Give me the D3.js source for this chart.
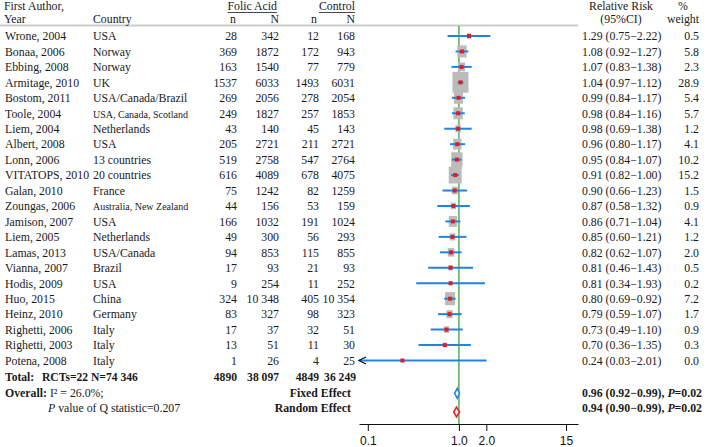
<!DOCTYPE html>
<html>
<head>
<meta charset="utf-8">
<script src="https://cdn.jsdelivr.net/npm/d3@7"></script>
<style>
  body { margin: 0; background: #fff; }
  svg text { font-family: "Liberation Serif", "Times New Roman", serif; font-size: 11.8px; fill: #1a1a1a; }
  .ax text { font-family: "Liberation Sans", Arial, sans-serif; font-size: 12px; fill: #111; }
  svg text.tot { font-size: 11.6px; font-weight: bold; }
</style>
</head>
<body>
<div id="chart"></div>
<script>
// donnees des essais
const authors = ["Wrone, 2004", "Bonaa, 2006", "Ebbing, 2008", "Armitage, 2010", "Bostom, 2011", "Toole, 2004",
  "Liem, 2004", "Albert, 2008", "Lonn, 2006", "VITATOPS, 2010", "Galan, 2010", "Zoungas, 2006", "Jamison, 2007",
  "Liem, 2005", "Lamas, 2013", "Vianna, 2007", "Hodis, 2009", "Huo, 2015", "Heinz, 2010", "Righetti, 2006",
  "Righetti, 2003", "Potena, 2008"];
const countries = ["USA", "Norway", "Norway", "UK", "USA/Canada/Brazil", "USA, Canada, Scotland", "Netherlands",
  "USA", "13 countries", "20 countries", "France", "Australia, New Zealand", "USA", "Netherlands", "USA/Canada",
  "Brazil", "USA", "China", "Germany", "Italy", "Italy", "Italy"];
const folicN = [28, 369, 163, 1537, 269, 249, 43, 205, 519, 616, 75, 44, 166, 49, 94, 17, 9, 324, 83, 17, 13, 1];
const folicTotal = [342, 1872, 1540, 6033, 2056, 1827, 140, 2721, 2758, 4089, 1242, 156, 1032, 300, 853, 93, 254, 10348, 327, 37, 51, 26];
const ctrlN = [12, 172, 77, 1493, 278, 257, 45, 211, 547, 678, 82, 53, 191, 56, 115, 21, 11, 405, 98, 32, 11, 4];
const ctrlTotal = [168, 943, 779, 6031, 2054, 1853, 143, 2721, 2764, 4075, 1259, 159, 1024, 293, 855, 93, 252, 10354, 323, 51, 30, 25];
const rr = [1.29, 1.08, 1.07, 1.04, 0.99, 0.98, 0.98, 0.96, 0.95, 0.91, 0.90, 0.87, 0.86, 0.85, 0.82, 0.81, 0.81, 0.80, 0.79, 0.73, 0.70, 0.24];
const lower = [0.75, 0.92, 0.83, 0.97, 0.84, 0.84, 0.69, 0.80, 0.84, 0.82, 0.66, 0.58, 0.71, 0.60, 0.62, 0.46, 0.34, 0.69, 0.59, 0.49, 0.36, 0.03];
const upper = [2.22, 1.27, 1.38, 1.12, 1.17, 1.16, 1.38, 1.17, 1.07, 1.00, 1.23, 1.32, 1.04, 1.21, 1.07, 1.43, 1.93, 0.92, 1.07, 1.10, 1.35, 2.01];
const weights = [0.5, 5.8, 2.3, 28.9, 5.4, 5.7, 1.2, 4.1, 10.2, 15.2, 1.5, 0.9, 4.1, 1.2, 2.0, 0.5, 0.2, 7.2, 1.7, 0.9, 0.3, 0.0];

// totaux et effets globaux
const totals = [4890, 38097, 4849, 36249];
const pooledLabels = ["Fixed Effect", "Random Effect"];
const pooledRR = [0.96, 0.94];
const pooledLo = [0.92, 0.90];
const pooledHi = [0.99, 0.99];
const pooledP = ["0.02", "0.02"];
const tickValues = [0.1, 1, 2, 15];
const tickLabels = ["0.1", "1.0", "2.0", "15"];

const width = 709, height = 447;
const smallCountries = ["USA, Canada, Scotland", "Australia, New Zealand"];

const svg = d3.select("#chart").append("svg").attr("width", width).attr("height", height);

// echelles
const x = d3.scaleLog().domain([0.08, 20.3]).range([359, 578]);
const y = d3.scaleLinear().domain([0, authors.length - 1]).range([36, 360.5]);
const side = d3.scalePow().exponent(1 / 3).domain([0, 28.9]).range([0, 16]);

const fmtN = (v) => (v >= 10000 ? d3.format(",")(v).replace(",", " ") : String(v));
const f2 = d3.format(".2f");

// entete
svg.append("line").attr("x1", 0).attr("x2", 578).attr("y1", 25.5).attr("y2", 25.5)
  .attr("stroke", "#cccccc").attr("stroke-width", 2);

svg.append("text").attr("x", 4).attr("y", 10).text("First Author,");
svg.append("text").attr("x", 4).attr("y", 23).text("Year");
svg.append("text").attr("x", 93).attr("y", 23).text("Country");
const grpHead = [{ t: "Folic Acid", r: 277 }, { t: "Control", r: 355 }];
grpHead.forEach(function (g) {
  const t = svg.append("text").attr("x", g.r).attr("y", 10).attr("text-anchor", "end").text(g.t);
  const w = t.node().getComputedTextLength();
  svg.append("line").attr("x1", g.r - w).attr("x2", g.r).attr("y1", 12.5).attr("y2", 12.5)
    .attr("stroke", "#1a1a1a").attr("stroke-width", 0.8);
});
[["n", 236], ["N", 279], ["n", 317], ["N", 355]].forEach(function (d) {
  svg.append("text").attr("x", d[1]).attr("y", 23).attr("text-anchor", "end").text(d[0]);
});
svg.append("text").attr("x", 621).attr("y", 10).attr("text-anchor", "middle").text("Relative Risk");
svg.append("text").attr("x", 621).attr("y", 23).attr("text-anchor", "middle").text("(95%CI)");
svg.append("text").attr("x", 683).attr("y", 10).attr("text-anchor", "middle").text("%");
svg.append("text").attr("x", 683).attr("y", 23).attr("text-anchor", "middle").text("weight");

// lignes du tableau
const rows = svg.selectAll(".row").data(authors).enter().append("g")
  .attr("class", "row")
  .attr("transform", function (d, i) { return "translate(0," + (y(i) + 4.3) + ")"; });

rows.append("text").attr("x", 5).text(function (d) { return d; });
rows.append("text").attr("x", 93)
  .style("font-size", function (d, i) { return smallCountries.includes(countries[i]) ? "10px" : null; })
  .text(function (d, i) { return countries[i]; });
const numCols = [[folicN, 237], [folicTotal, 279], [ctrlN, 319], [ctrlTotal, 355]];
numCols.forEach(function (c) {
  rows.append("text").attr("x", c[1]).attr("text-anchor", "end")
    .text(function (d, i) { return fmtN(c[0][i]); });
});
rows.append("text").attr("x", 582)
  .text(function (d, i) { return f2(rr[i]) + " (" + f2(lower[i]) + "\u2212" + f2(upper[i]) + ")"; });
rows.append("text").attr("x", 699).attr("text-anchor", "end")
  .text(function (d, i) { return weights[i].toFixed(1); });

// ligne de reference
svg.append("line").attr("x1", x(1)).attr("x2", x(1)).attr("y1", 26).attr("y2", 424)
  .attr("stroke", "#3aa340").attr("stroke-width", 1.3);

// marqueurs
const marks = svg.selectAll(".mark").data(authors).enter().append("g").attr("class", "mark");
marks.append("rect")
  .attr("x", function (d, i) { return x(rr[i]) - side(weights[i]) / 2; })
  .attr("y", function (d, i) { return y(i) - side(weights[i]) * 0.65; })
  .attr("width", function (d, i) { return side(weights[i]); })
  .attr("height", function (d, i) { return side(weights[i]) * 1.3; })
  .attr("fill", "#bbbbbb");
marks.append("line")
  .attr("x1", function (d, i) { return x(Math.max(lower[i], x.domain()[0])); })
  .attr("x2", function (d, i) { return x(upper[i]); })
  .attr("y1", function (d, i) { return y(i); })
  .attr("y2", function (d, i) { return y(i); })
  .attr("stroke", "#2283e2").attr("stroke-width", 2);
marks.append("rect")
  .attr("x", function (d, i) { return x(rr[i]) - 2; })
  .attr("y", function (d, i) { return y(i) - 2; })
  .attr("width", 4).attr("height", 4)
  .attr("fill", "#d8202a");

// fleche pour IC tronque
marks.filter(function (d, i) { return lower[i] < x.domain()[0]; })
  .append("path")
  .attr("d", function (d) {
    const x0 = x.range()[0], yy = y(authors.indexOf(d));
    return "M" + (x0 + 7) + "," + (yy - 3.5) + "L" + x0 + "," + yy + "L" + (x0 + 7) + "," + (yy + 3.5);
  })
  .attr("fill", "none").attr("stroke", "#111").attr("stroke-width", 1.3);

// total
const yTot = 381;
svg.append("text").attr("class", "tot").attr("x", 5).attr("y", yTot).text("Total:");
svg.append("text").attr("class", "tot").attr("x", 42).attr("y", yTot).text("RCTs=22");
svg.append("text").attr("class", "tot").attr("x", 91).attr("y", yTot).text("N=74 346");
[237, 279, 319, 356].forEach(function (px, k) {
  svg.append("text").attr("class", "tot").attr("x", px).attr("y", yTot).attr("text-anchor", "end")
    .text(fmtN(totals[k]));
});

// heterogeneite
const ov = svg.append("text").attr("x", 5).attr("y", 396.5);
ov.append("tspan").attr("font-weight", "bold").text("Overall:");
ov.append("tspan").text(" I\u00b2 = 26.0%;");
const pq = svg.append("text").attr("x", 48).attr("y", 411.5);
pq.append("tspan").attr("font-style", "italic").text("P");
pq.append("tspan").text(" value of Q statistic=0.207");

// effets combines
const pooledY = [393.3, 412];
const pooledText = [396.5, 411.5];
const pooledColor = ["#2283e2", "#e0262a"];
pooledLabels.forEach(function (lab, k) {
  svg.append("text").attr("x", 351).attr("y", pooledText[k]).attr("text-anchor", "end")
    .attr("font-weight", "bold").text(lab);
  const t = svg.append("text").attr("x", 582).attr("y", pooledText[k]).attr("font-weight", "bold");
  t.append("tspan").text(f2(pooledRR[k]) + " (" + f2(pooledLo[k]) + "\u2212" + f2(pooledHi[k]) + "), ");
  t.append("tspan").attr("font-style", "italic").text("P");
  t.append("tspan").text("=" + pooledP[k]);
  const xl = x(pooledLo[k]), xh = x(pooledHi[k]), xc = x(pooledRR[k]), yc = pooledY[k];
  svg.append("path")
    .attr("d", "M" + (xl - 1) + "," + yc + "L" + xc + "," + (yc - 5) + "L" + (xh + 1) + "," + yc + "L" + xc + "," + (yc + 5) + "Z")
    .attr("fill", "#fff").attr("stroke", pooledColor[k]).attr("stroke-width", 1.6);
});

// axe
const axis = d3.axisBottom(x).tickValues(tickValues)
  .tickFormat(function (d, i) { return tickLabels[i]; })
  .tickSizeOuter(0).tickSizeInner(7).tickPadding(5);
const gAx = svg.append("g").attr("class", "ax").attr("transform", "translate(0,424)").call(axis);
gAx.select(".domain").attr("stroke", "#111");
gAx.selectAll(".tick line").attr("stroke", "#111");
</script>
</body>
</html>
